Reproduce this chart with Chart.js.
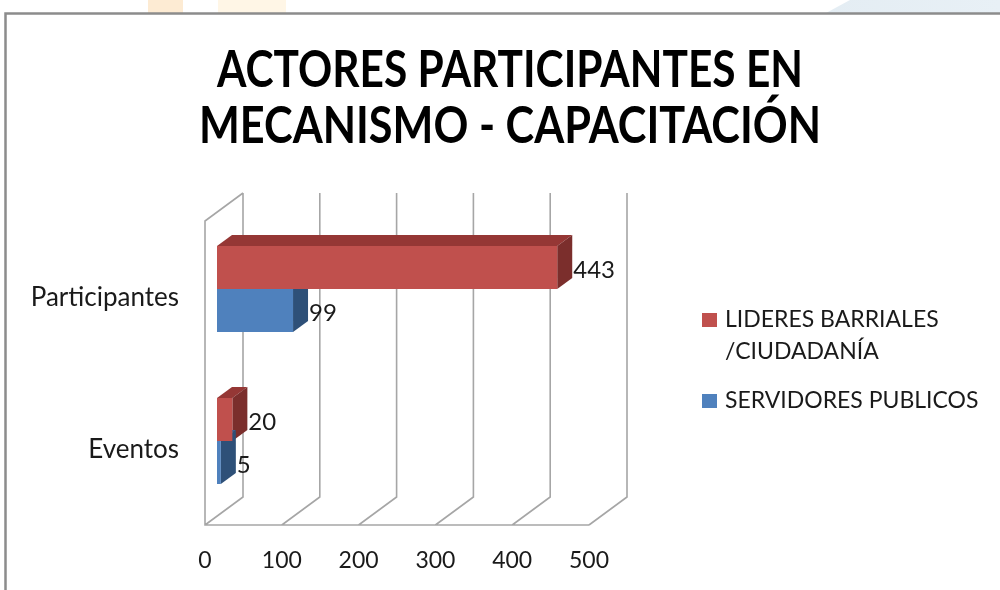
<!DOCTYPE html>
<html>
<head>
<meta charset="utf-8">
<script src="https://cdn.jsdelivr.net/npm/chart.js@4.4.1/dist/chart.umd.min.js"></script>
<style>
html, body { margin: 0; padding: 0; background: #fff; }
#wrap { width: 1000px; height: 590px; }
</style>
</head>
<body>
<div id="wrap"><canvas id="actoresChart" width="1000" height="590"></canvas></div>
<script>
var categories = ['Participantes', 'Eventos'];
var lideres = [443, 20];
var servidores = [99, 5];
var seriesNames = [['LIDERES BARRIALES', '/CIUDADANÍA'], ['SERVIDORES PUBLICOS']];
var titleLines = ['ACTORES PARTICIPANTES EN', 'MECANISMO - CAPACITACIÓN'];
var xTickMax = 500;
var xTickStep = 100;

var fontFamily = 'Lato, "Open Sans", sans-serif';
var colors = {
    red: { front: '#C0504D', top: '#953735', side: '#7B2E2C' },
    blue: { front: '#4F81BD', top: '#3B6396', side: '#2E5078' }
};

// fake 3d: depth of the box and of each bar
var boxDx = 38, boxDy = -28;
var frontOff = 12;      // bars sit this far behind the front plane
var barDx = 15, barDy = -11;

var box3d = {
    id: 'box3d',
    beforeDraw: function (chart) {
        var ctx = chart.ctx;
        ctx.save();
        ctx.fillStyle = '#fff';
        ctx.fillRect(0, 0, chart.width, chart.height);
        // faint slide decoration above the frame
        ctx.fillStyle = '#fdebd3';
        ctx.fillRect(148, 0, 35, 13);
        ctx.fillStyle = '#fff6e6';
        ctx.fillRect(218, 0, 68, 13);
        var g = ctx.createLinearGradient(820, 0, 1000, 0);
        g.addColorStop(0, 'rgba(225,235,242,0.9)');
        g.addColorStop(1, 'rgba(232,240,246,1)');
        ctx.fillStyle = g;
        ctx.beginPath();
        ctx.moveTo(826, 13);
        ctx.lineTo(850, 0);
        ctx.lineTo(1000, 0);
        ctx.lineTo(1000, 13);
        ctx.closePath();
        ctx.fill();
        // frame
        ctx.strokeStyle = '#8c8c8c';
        ctx.lineWidth = 2.5;
        ctx.beginPath();
        ctx.moveTo(5.5, 590);
        ctx.lineTo(5.5, 13.5);
        ctx.lineTo(1000, 13.5);
        ctx.stroke();
        ctx.restore();
    },
    beforeDatasetsDraw: function (chart) {
        var ctx = chart.ctx;
        var xs = chart.scales.x;
        var area = chart.chartArea;
        var floorY = area.bottom + 8;
        var backFloorY = floorY + boxDy;
        var backTopY = area.top - 20;
        ctx.save();
        ctx.strokeStyle = '#a6a6a6';
        ctx.lineWidth = 1.6;
        ctx.beginPath();
        for (var v = 0; v <= xTickMax; v += xTickStep) {
            var fx = xs.getPixelForValue(v) - frontOff;
            ctx.moveTo(fx, floorY);
            ctx.lineTo(fx + boxDx, backFloorY);
            ctx.lineTo(fx + boxDx, backTopY);
        }
        var x0 = xs.getPixelForValue(0) - frontOff;
        var x1 = xs.getPixelForValue(xTickMax) - frontOff;
        ctx.moveTo(x1, floorY);
        ctx.lineTo(x0, floorY);
        ctx.lineTo(x0, backTopY - boxDy);
        ctx.lineTo(x0 + boxDx, backTopY);
        ctx.stroke();

        // side and top faces, fronts are drawn by chart.js over them
        chart.data.datasets.forEach(function (ds, i) {
            var meta = chart.getDatasetMeta(i);
            var c = colors[ds.tone];
            meta.data.forEach(function (bar) {
                var p = bar.getProps(['x', 'y', 'base', 'height'], true);
                var yt = p.y - p.height / 2, yb = p.y + p.height / 2;
                ctx.fillStyle = c.top;
                ctx.beginPath();
                ctx.moveTo(p.base, yt);
                ctx.lineTo(p.base + barDx, yt + barDy);
                ctx.lineTo(p.x + barDx, yt + barDy);
                ctx.lineTo(p.x, yt);
                ctx.closePath();
                ctx.fill();
                ctx.fillStyle = c.side;
                ctx.beginPath();
                ctx.moveTo(p.x, yt);
                ctx.lineTo(p.x + barDx, yt + barDy);
                ctx.lineTo(p.x + barDx, yb + barDy);
                ctx.lineTo(p.x, yb);
                ctx.closePath();
                ctx.fill();
            });
        });
        ctx.restore();
    },
    afterDatasetsDraw: function (chart) {
        var ctx = chart.ctx;
        ctx.save();
        ctx.font = '24px ' + fontFamily;
        ctx.fillStyle = '#1a1a1a';
        ctx.textBaseline = 'middle';
        ctx.textAlign = 'left';
        chart.data.datasets.forEach(function (ds, i) {
            chart.getDatasetMeta(i).data.forEach(function (bar, j) {
                ctx.fillText(String(ds.data[j]), bar.x + barDx + 1, bar.y + 3);
            });
        });
        ctx.restore();
    },
    afterDraw: function (chart) {
        var ctx = chart.ctx;
        ctx.save();
        // title
        ctx.fillStyle = '#000';
        ctx.textAlign = 'center';
        ctx.textBaseline = 'alphabetic';
        ctx.font = 'bold 51px ' + fontFamily;
        ctx.fillText(titleLines[0], 510, 87, 586);
        ctx.fillText(titleLines[1], 510, 143, 622);

        // legend
        ctx.textAlign = 'left';
        ctx.textBaseline = 'middle';
        ctx.font = '23px ' + fontFamily;
        var ly = [320, 401];
        chart.data.datasets.forEach(function (ds, i) {
            ctx.fillStyle = colors[ds.tone].front;
            ctx.fillRect(702, ly[i] - 7, 15, 14);
            ctx.fillStyle = '#1a1a1a';
            seriesNames[i].forEach(function (line, k) {
                ctx.fillText(line, 725, ly[i] + k * 32);
            });
        });
        ctx.restore();
    }
};

document.addEventListener('DOMContentLoaded', function () {
    var ctx = document.getElementById('actoresChart').getContext('2d');

    new Chart(ctx, {
        type: 'bar',
        data: {
            labels: categories,
            datasets: [{
                label: seriesNames[0].join(' '),
                tone: 'red',
                data: lideres,
                backgroundColor: colors.red.front,
                borderWidth: 0,
                barPercentage: 1,
                categoryPercentage: 0.566
            }, {
                label: seriesNames[1].join(' '),
                tone: 'blue',
                data: servidores,
                backgroundColor: colors.blue.front,
                borderWidth: 0,
                barPercentage: 1,
                categoryPercentage: 0.566
            }]
        },
        options: {
            indexAxis: 'y',
            responsive: false,
            animation: false,
            layout: {
                padding: { top: 213, right: 399, left: 0, bottom: 0 }
            },
            scales: {
                x: {
                    min: 0,
                    max: xTickMax,
                    grid: { display: false, drawTicks: false },
                    border: { display: false },
                    ticks: {
                        stepSize: xTickStep,
                        labelOffset: -frontOff,
                        padding: 30,
                        color: '#1a1a1a',
                        font: { family: fontFamily, size: 23 }
                    },
                    afterFit: function (s) { s.height = 73; }
                },
                y: {
                    grid: { display: false, drawTicks: false },
                    border: { display: false },
                    ticks: {
                        padding: 38,
                        labelOffset: 9,
                        color: '#1a1a1a',
                        font: { family: fontFamily, size: 26 }
                    },
                    afterFit: function (s) { s.width = 217; }
                }
            },
            plugins: {
                legend: { display: false },
                tooltip: { enabled: false }
            }
        },
        plugins: [box3d]
    });
});
</script>
</body>
</html>
